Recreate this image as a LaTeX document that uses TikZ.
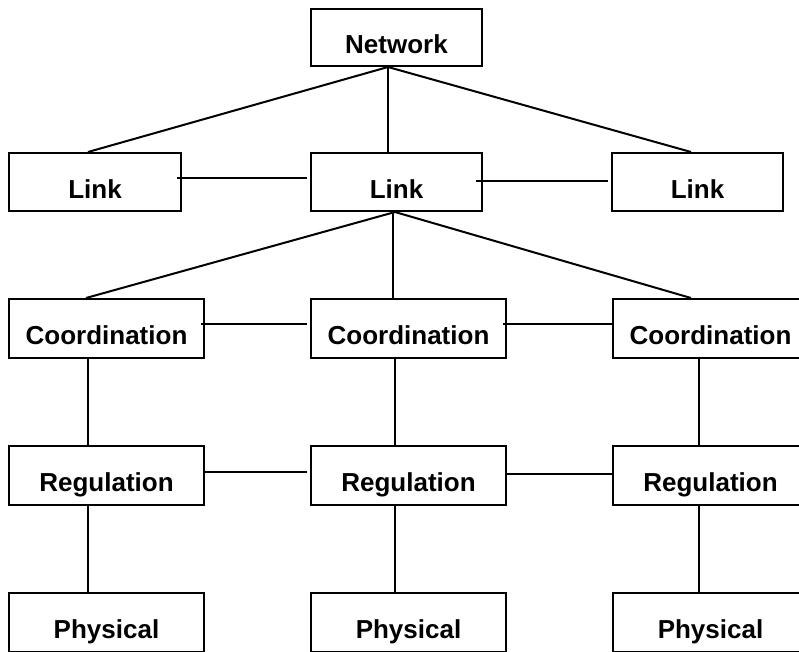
\documentclass[tikz,border=0pt]{standalone}
\usepackage{fontspec}
\setmainfont{Liberation Sans}
\begin{document}
\begin{tikzpicture}[x=1pt,y=-1pt,
  layer/.style={draw, line width=2pt, rectangle, inner sep=0pt,
    minimum height=58pt, text height=32pt, text depth=0pt,
    font=\fontsize{26}{30}\selectfont\bfseries},
  narrow/.style={layer, minimum width=171pt},
  wide/.style={layer, minimum width=195pt, minimum height=59pt},
  wire/.style={line width=2pt}]
\clip (0,0) rectangle (799,651);

% top level
\node[narrow, minimum height=57pt] (net) at (396.5,37.5) {Network};

% link level
\node[narrow, minimum width=172pt] (linkL) at (95,182) {Link};
\node[narrow] (linkM) at (396.5,182) {Link};
\node[narrow] (linkR) at (697.5,182) {Link};

% coordination level
\node[wide] (coordL) at (106.5,328.5) {Coordination};
\node[wide] (coordM) at (408.5,328.5) {Coordination};
\node[wide] (coordR) at (710.5,328.5) {Coordination};

% regulation level
\node[wide] (regL) at (106.5,475.5) {Regulation};
\node[wide] (regM) at (408.5,475.5) {Regulation};
\node[wide] (regR) at (710.5,475.5) {Regulation};

% physical level
\node[wide] (physL) at (106.5,622) {Physical};
\node[wide] (physM) at (408.5,622) {Physical};
\node[wide] (physR) at (710.5,622) {Physical};

% fan-out from Network
\coordinate (netFoot) at ([xshift=-8.5pt]net.south);
\draw[wire] ([xshift=-7pt]linkL.north) -- (netFoot) -- ([xshift=-6.5pt]linkR.north);
\draw[wire] (netFoot) -- ([xshift=-8.5pt]linkM.north);

% fan-out from the middle Link
\coordinate (linkFoot) at ([xshift=-1.5pt]linkM.south);
\draw[wire] ([xshift=-20.5pt]coordL.north) -- (linkFoot) -- ([xshift=-19.5pt]coordR.north);
\draw[wire] ([xshift=-4pt]linkM.south) -- ([xshift=-16pt]coordM.north);

% peer links
\draw[wire] ([xshift=-5pt,yshift=4pt]linkL.east) -- ([xshift=-3pt,yshift=4pt]linkM.west);
\draw[wire] ([xshift=-7pt,yshift=1pt]linkM.east) -- ([xshift=-3pt,yshift=1pt]linkR.west);
\draw[wire] ([xshift=-4pt,yshift=4.5pt]coordL.east) -- ([xshift=-3pt,yshift=4.5pt]coordM.west);
\draw[wire] ([xshift=-4pt,yshift=4.5pt]coordM.east) -- ([yshift=4.5pt]coordR.west);
\draw[wire] ([yshift=3.5pt]regL.east) -- ([xshift=-3pt,yshift=3.5pt]regM.west);
\draw[wire] ([yshift=1.5pt]regM.east) -- ([yshift=1.5pt]regR.west);

% vertical stacks
\draw[wire] ([xshift=-18.5pt]coordL.south) -- ([xshift=-18.5pt]regL.north);
\draw[wire] ([xshift=-18.5pt]regL.south) -- ([xshift=-18.5pt]physL.north);
\draw[wire] ([xshift=-13.5pt]coordM.south) -- ([xshift=-13.5pt]regM.north);
\draw[wire] ([xshift=-13.5pt]regM.south) -- ([xshift=-13.5pt]physM.north);
\draw[wire] ([xshift=-11.5pt]coordR.south) -- ([xshift=-11.5pt]regR.north);
\draw[wire] ([xshift=-11.5pt]regR.south) -- ([xshift=-11.5pt]physR.north);
\end{tikzpicture}
\end{document}
